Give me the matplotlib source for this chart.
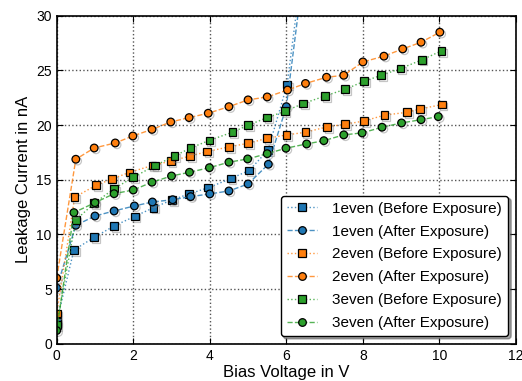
import matplotlib
matplotlib.use("Agg")
import matplotlib.pyplot as plt
import matplotlib.patheffects as pe
from matplotlib.legend_handler import HandlerTuple

plt.rcParams['font.family'] = ['Liberation Sans', 'DejaVu Sans']

# 1even
v_1b = [0, 0.45, 0.98, 1.5, 2.04, 2.53, 3.01, 3.46, 3.96, 4.55, 5.03, 5.52, 6.02, 6.5]
i_1b = [2.0, 8.57, 9.73, 10.77, 11.65, 12.44, 13.15, 13.7, 14.27, 15.1, 15.85, 17.69, 23.7, 36.8]
v_1a = [0, 0.5, 1.0, 1.5, 2.03, 2.5, 3.03, 3.5, 4.0, 4.5, 5.0, 5.53, 6.0, 6.5]
i_1a = [5.1, 10.83, 11.68, 12.14, 12.6, 12.96, 13.17, 13.45, 13.7, 13.97, 14.61, 16.41, 21.68, 35.5]

# 2even
v_2b = [0, 0.47, 1.03, 1.45, 1.9, 2.5, 2.98, 3.49, 3.93, 4.5, 5.0, 5.5, 6.0, 6.5,
        7.06, 7.54, 8.03, 8.56, 9.16, 9.5, 10.06]
i_2b = [2.75, 13.4, 14.49, 15.07, 15.67, 16.3, 16.7, 17.17, 17.57, 18.0, 18.33, 18.79,
        19.09, 19.34, 19.83, 20.07, 20.37, 20.9, 21.17, 21.47, 21.87]
v_2a = [0, 0.5, 0.98, 1.53, 1.99, 2.49, 2.98, 3.46, 3.96, 4.5, 5.0, 5.5, 6.03, 6.5,
        7.05, 7.5, 8.0, 8.55, 9.04, 9.52, 10.01]
i_2a = [6.0, 16.87, 17.9, 18.36, 19.0, 19.6, 20.28, 20.68, 21.08, 21.68, 22.3, 22.57,
        23.2, 23.8, 24.37, 24.55, 25.77, 26.3, 26.96, 27.57, 28.49]

# 3even
v_3b = [0, 0.5, 0.98, 1.5, 2.0, 2.57, 3.08, 3.5, 3.99, 4.59, 5.0, 5.5, 5.96, 6.44,
        7.01, 7.54, 8.03, 8.48, 8.98, 9.54, 10.05]
i_3b = [1.7, 11.32, 12.84, 14.18, 15.22, 16.29, 17.17, 17.9, 18.6, 19.34, 19.98, 20.68,
        21.26, 21.96, 22.66, 23.27, 24.0, 24.55, 25.16, 25.96, 26.78]
v_3a = [0, 0.45, 1.0, 1.5, 2.0, 2.49, 3.0, 3.47, 3.99, 4.5, 4.99, 5.5, 5.99, 6.53,
        6.98, 7.5, 7.98, 8.5, 9.01, 9.52, 9.97]
i_3a = [1.2, 11.99, 12.9, 13.72, 14.06, 14.77, 15.34, 15.68, 16.1, 16.6, 16.9, 17.38,
        17.88, 18.27, 18.57, 19.1, 19.28, 19.8, 20.19, 20.49, 20.77]

series = [
    (v_1b, i_1b, '#1f77b4', 's', ':', '1even (Before Exposure)'),
    (v_1a, i_1a, '#1f77b4', 'o', '--', '1even (After Exposure)'),
    (v_2b, i_2b, '#ff7f0e', 's', ':', '2even (Before Exposure)'),
    (v_2a, i_2a, '#ff7f0e', 'o', '--', '2even (After Exposure)'),
    (v_3b, i_3b, '#2ca02c', 's', ':', '3even (Before Exposure)'),
    (v_3a, i_3a, '#2ca02c', 'o', '--', '3even (After Exposure)'),
]

fig = plt.figure(figsize=(5.22, 3.81), dpi=100)
ax = fig.add_axes([0.1086, 0.0979, 0.8799, 0.8609])

shadow = [pe.SimpleLineShadow(offset=(1.3, -1.3), shadow_color='gray', alpha=0.45), pe.Normal()]
handles, labels = [], []
for v, i, c, m, ls, lab in series:
    ln, = ax.plot(v, i, color=c, linestyle=ls, linewidth=1.0, alpha=0.8)
    mk, = ax.plot(v, i, color=c, marker=m, linestyle='none', markersize=5.5,
                  markeredgecolor='black', markeredgewidth=0.9, path_effects=shadow)
    lh, = ax.plot([], [], color=c, linestyle=ls, linewidth=1.0, alpha=0.8)
    mh, = ax.plot([], [], color=c, marker=m, linestyle='none', markersize=5.5,
                  markeredgecolor='black', markeredgewidth=0.9)
    handles.append((lh, mh))
    labels.append(lab)

ax.set_xlim(0, 12)
ax.set_ylim(0, 30)
ax.set_xticks(range(0, 13, 2))
ax.set_yticks(range(0, 31, 5))
ax.tick_params(direction='in', top=True, right=True, labelsize=10, length=4, width=0.8)
ax.grid(True, color='#555555', linestyle=':', linewidth=1.0)
for s in ax.spines.values():
    s.set_linewidth(1.2)

ax.set_xlabel('Bias Voltage in V', fontsize=12, labelpad=2)
ax.set_ylabel('Leakage Current in nA', fontsize=12, labelpad=4)

leg = ax.legend(handles, labels, loc='lower right', fontsize=11, numpoints=1,
                handlelength=2, handletextpad=1.0, labelspacing=0.58, fancybox=True,
                shadow=True, framealpha=1, handler_map={tuple: HandlerTuple(ndivide=1)})
leg.get_frame().set_edgecolor('black')
leg.get_frame().set_linewidth(1.0)

fig.savefig('out.png', dpi=100)
